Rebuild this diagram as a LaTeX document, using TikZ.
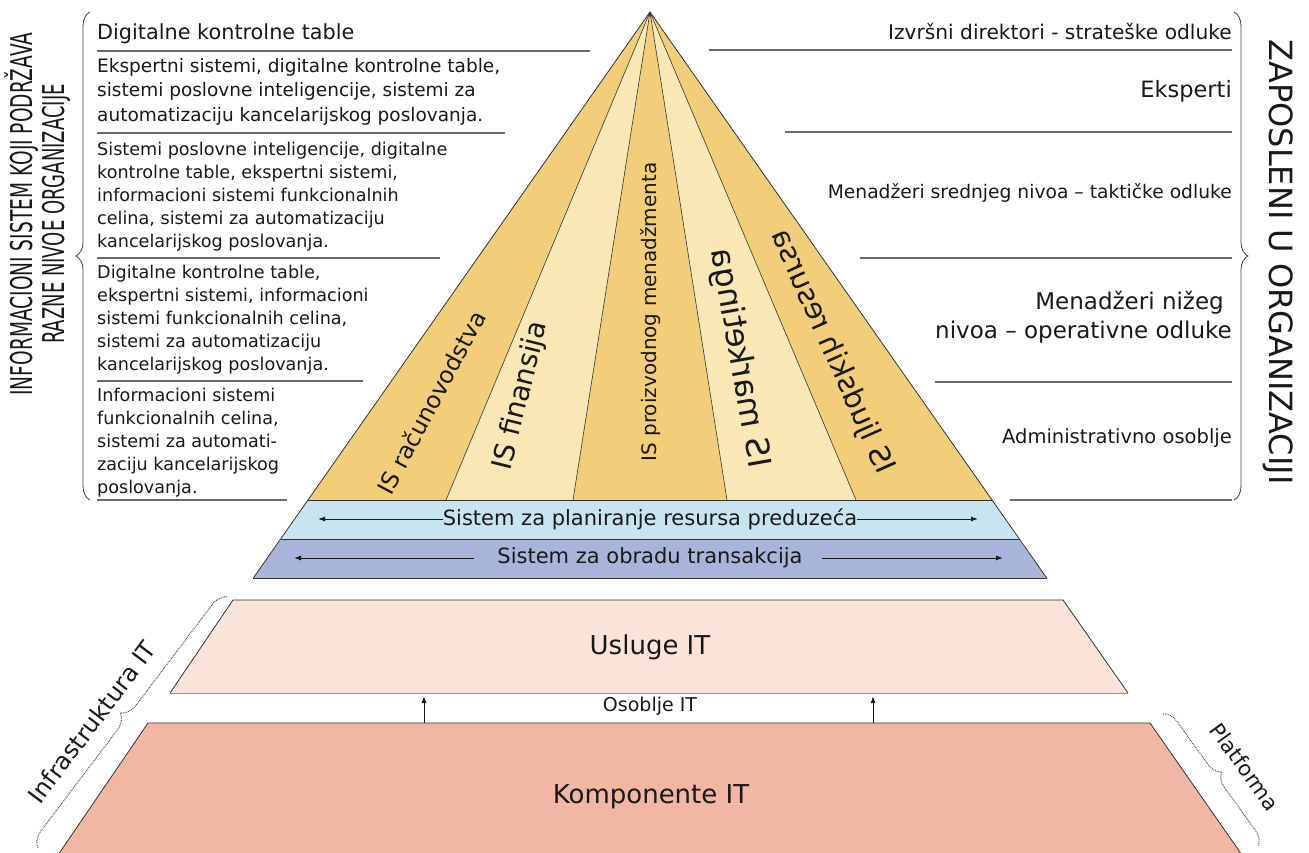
\documentclass[tikz,border=0pt]{standalone}
\usepackage{fontspec}
\setmainfont{DejaVu Sans}
\usetikzlibrary{decorations.pathreplacing,arrows.meta}

\definecolor{ydark}{RGB}{242,206,122}
\definecolor{ylight}{RGB}{249,232,182}
\definecolor{erpblue}{RGB}{200,228,240}
\definecolor{tpsblue}{RGB}{168,180,218}
\definecolor{uslpink}{RGB}{250,228,218}
\definecolor{kompink}{RGB}{241,182,164}
\definecolor{ink}{RGB}{25,25,25}
\definecolor{rulegray}{RGB}{105,105,105}

\newcommand{\fsz}[1]{\fontsize{#1}{#1}\selectfont}

\tikzset{
  every node/.style={inner sep=0pt, text=ink},
  lt/.style={anchor=base west},
  rt/.style={anchor=base east},
  sepline/.style={draw=rulegray, line width=1.5pt},
  edgeline/.style={draw=black!80, line width=0.8pt},
  brc/.style={decorate, decoration={brace, amplitude=#1}, draw=black!75, line width=0.8pt},
  arr/.style={-{Latex[length=7pt,width=5pt]}, draw=ink, line width=1pt},
}

\begin{document}
\begin{tikzpicture}[x=1pt,y=-1pt]
\useasboundingbox (0,0) rectangle (1309,852);
\fill[white] (0,0) rectangle (1309,852);
\clip (0,0) rectangle (1309,852);

% ---------- pyramid geometry ----------
\coordinate (A) at (650,12);
\coordinate (BL) at (308,500);
\coordinate (BR) at (992,500);
\coordinate (D1) at (446,500);
\coordinate (D2) at (573,500);
\coordinate (D3) at (727,500);
\coordinate (D4) at (856,500);
\coordinate (ML) at (281.4,539);
\coordinate (MR) at (1018.6,539);
\coordinate (LL) at (253.3,578);
\coordinate (LR) at (1046.7,578);

\fill[ydark]  (A) -- (BL) -- (D1) -- cycle;
\fill[ylight] (A) -- (D1) -- (D2) -- cycle;
\fill[ydark]  (A) -- (D2) -- (D3) -- cycle;
\fill[ylight] (A) -- (D3) -- (D4) -- cycle;
\fill[ydark]  (A) -- (D4) -- (BR) -- cycle;
\draw[edgeline, line width=0.6pt] (A) -- (D1) (A) -- (D2) (A) -- (D3) (A) -- (D4);

\fill[erpblue] (BL) -- (BR) -- (MR) -- (ML) -- cycle;
\fill[tpsblue] (ML) -- (MR) -- (LR) -- (LL) -- cycle;
\draw[edgeline] (LL) -- (A) -- (LR);
\draw[edgeline] (BL) -- (BR) (ML) -- (MR) (LL) -- (LR);

% ---------- infrastructure ----------
\coordinate (U1) at (233,600);
\coordinate (U2) at (1063,600);
\coordinate (U3) at (1128,693);
\coordinate (U4) at (170,693);
\fill[uslpink] (U1) -- (U2) -- (U3) -- (U4) -- cycle;
\draw[edgeline] (U1) -- (U2) -- (U3) (U4) -- (U1);
\draw[draw=black!45, line width=1pt] (U4) -- (U3);

\coordinate (K1) at (148,723);
\coordinate (K2) at (1150,723);
\coordinate (K3) at (1242,855);
\coordinate (K4) at (58,855);
\fill[kompink] (K1) -- (K2) -- (K3) -- (K4) -- cycle;
\draw[edgeline] (K4) -- (K1) -- (K2) -- (K3);

% ---------- left column texts ----------
\node[lt, font=\fsz{20.8}] (l1a) at (97,39) {Digitalne kontrolne table};
\draw[sepline] (97,51) -- (590,51);

\node[lt, font=\fsz{18.5}] (l2a) at (97,72) {Ekspertni sistemi, digitalne kontrolne table,};
\node[lt, font=\fsz{18.5}] (l2b) at (97,96.5) {sistemi poslovne inteligencije, sistemi za};
\node[lt, font=\fsz{18.5}] (l2c) at (97,121) {automatizaciju kancelarijskog poslovanja.};
\draw[sepline] (97,133) -- (505,133);

\node[lt, font=\fsz{17.6}] (l3a) at (97,155) {Sistemi poslovne inteligencije, digitalne};
\node[lt, font=\fsz{17.6}] (l3b) at (97,178) {kontrolne table, ekspertni sistemi,};
\node[lt, font=\fsz{17.6}] (l3c) at (97,201) {informacioni sistemi funkcionalnih};
\node[lt, font=\fsz{17.6}] (l3d) at (97,224) {celina, sistemi za automatizaciju};
\node[lt, font=\fsz{17.6}] (l3e) at (97,247) {kancelarijskog poslovanja.};
\draw[sepline] (97,258) -- (440,258);

\node[lt, font=\fsz{17.6}] (l4a) at (97,278) {Digitalne kontrolne table,};
\node[lt, font=\fsz{17.6}] (l4b) at (97,301) {ekspertni sistemi, informacioni};
\node[lt, font=\fsz{17.6}] (l4c) at (97,324) {sistemi funkcionalnih celina,};
\node[lt, font=\fsz{17.6}] (l4d) at (97,347) {sistemi za automatizaciju};
\node[lt, font=\fsz{17.6}] (l4e) at (97,370) {kancelarijskog poslovanja.};
\draw[sepline] (97,381) -- (363,381);

\node[lt, font=\fsz{17.6}] (l5a) at (97,401) {Informacioni sistemi};
\node[lt, font=\fsz{17.6}] (l5b) at (97,424) {funkcionalnih celina,};
\node[lt, font=\fsz{17.6}] (l5c) at (97,447) {sistemi za automati-};
\node[lt, font=\fsz{17.6}] (l5d) at (97,470) {zaciju kancelarijskog};
\node[lt, font=\fsz{17.6}] (l5e) at (97,493) {poslovanja.};
\draw[sepline] (97,500) -- (287,500);

% ---------- right column texts ----------
\node[rt, font=\fsz{20.2}] (r1) at (1232,39) {Izvršni direktori - strateške odluke};
\draw[sepline] (709,50) -- (1232,50);
\node[rt, font=\fsz{22.5}] (r2) at (1232,97) {Eksperti};
\draw[sepline] (785,132) -- (1232,132);
\node[rt, font=\fsz{18.7}] (r3) at (1232,198) {Menadžeri srednjeg nivoa – taktičke odluke};
\draw[sepline] (860,258) -- (1232,258);
\node[rt, font=\fsz{23}] (r4a) at (1224,309) {Menadžeri nižeg};
\node[rt, font=\fsz{23}] (r4b) at (1232,338) {nivoa – operativne odluke};
\draw[sepline] (935,382) -- (1232,382);
\node[rt, font=\fsz{19.5}] (r5) at (1232,443) {Administrativno osoblje};
\draw[sepline] (1010,500) -- (1232,500);

% ---------- side labels and braces ----------
\node[rotate=90, font=\fsz{30}] (isl1) at (22,214) {\scalebox{0.62}[1]{INFORMACIONI SISTEM KOJI PODRŽAVA}};
\node[rotate=90, font=\fsz{30}] (isl2) at (56,214) {\scalebox{0.6}[1]{RAZNE NIVOE ORGANIZACIJE}};
\node[rotate=-90, font=\fsz{32}] (zap) at (1278,262) {ZAPOSLENI U ORGANIZACIJI};

\coordinate (lbT) at (90,12);
\coordinate (lbB) at (90,500);
\draw[brc=14] (lbB) -- (lbT);
\coordinate (rbT) at (1234,12);
\coordinate (rbB) at (1234,500);
\draw[brc=14] (rbT) -- (rbB);

\coordinate (ibB) at (38,848);
\coordinate (ibT) at (228,597);
\draw[brc=16, densely dotted, line width=1pt] (ibB) -- (ibT);
\node[rotate=53, font=\fsz{24}] (infra) at (92,722) {Infrastruktura IT};

\coordinate (pbT) at (1163,714);
\coordinate (pbB) at (1258,846);
\draw[brc=14, densely dotted, line width=1pt] (pbT) -- (pbB);
\node[rotate=-54, font=\fsz{21}] (plat) at (1245,767) {Platforma};

% ---------- slice labels ----------
\node[rotate=62, font=\fsz{23.5}] (s1) at (431,402) {IS računovodstva};
\node[rotate=76, font=\fsz{28}] (s2) at (521,396) {IS finansija};
\node[rotate=90, font=\fsz{20}] (s3) at (651,312) {IS proizvodnog menadžmenta};
\node[rotate=100, font=\fsz{32}] (s4) at (739,358) {\scalebox{1}[-1]{IS marketinga}};
\node[rotate=114, font=\fsz{29}] (s5) at (832,352) {\scalebox{1}[-1]{IS ljudskih resursa}};

% ---------- band labels and arrows ----------
\node[font=\fsz{21}] (erp) at (650,519) {Sistem za planiranje resursa preduzeća};
\coordinate (erpL) at (318,519);
\coordinate (erpR) at (978,519);
\draw[arr] (erp.west) -- (erpL);
\draw[arr] (erp.east) -- (erpR);

\node[font=\fsz{21}] (tps) at (650,558) {Sistem za obradu transakcija};
\coordinate (tpsL) at (294,558);
\coordinate (tpsR) at (1003,558);
\coordinate (tpsLs) at (474,558);
\coordinate (tpsRs) at (822,558);
\draw[arr] (tpsLs) -- (tpsL);
\draw[arr] (tpsRs) -- (tpsR);

% ---------- IT labels ----------
\node[font=\fsz{26}] (usl) at (650,647) {Usluge IT};
\node[font=\fsz{19}] (oso) at (650,706) {Osoblje IT};
\node[font=\fsz{26}] (kom) at (651,797) {Komponente IT};

\coordinate (a1s) at (424,723);
\coordinate (a1e) at (424,696);
\coordinate (a2s) at (873,723);
\coordinate (a2e) at (873,696);
\draw[arr] (a1s) -- (a1e);
\draw[arr] (a2s) -- (a2e);
\end{tikzpicture}
\end{document}
